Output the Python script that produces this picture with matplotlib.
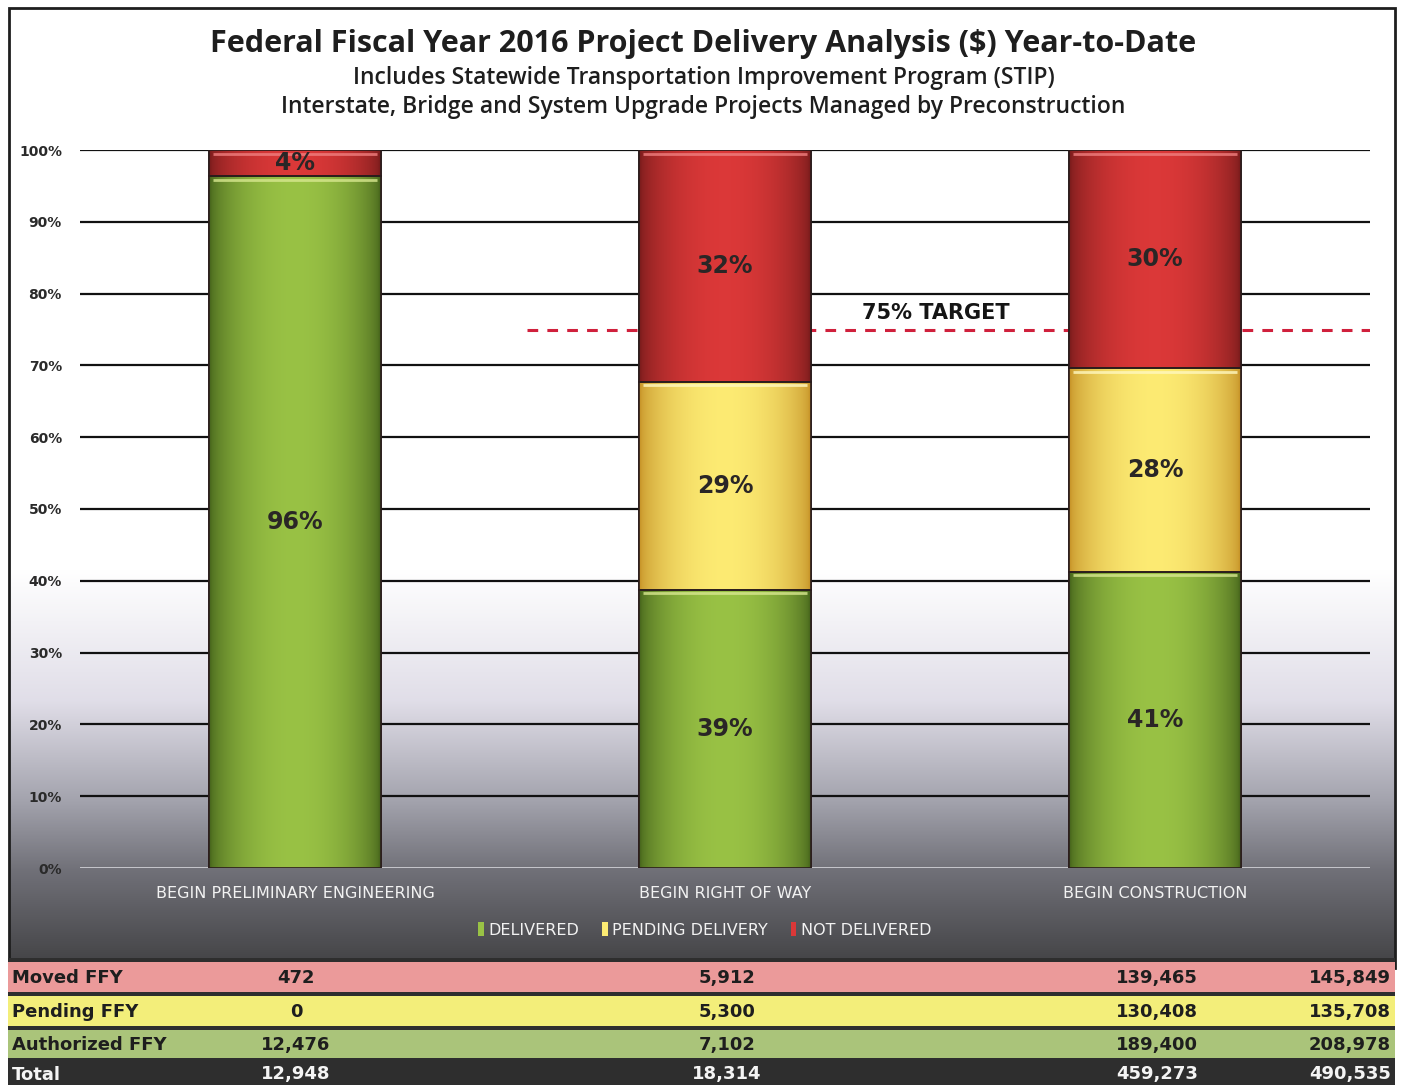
import numpy as np
import matplotlib
matplotlib.use('Agg')
import matplotlib.pyplot as plt
from matplotlib import font_manager
from matplotlib.patches import Rectangle, Patch

# ---------------- data ----------------
categories = ['BEGIN PRELIMINARY ENGINEERING', 'BEGIN RIGHT OF WAY', 'BEGIN CONSTRUCTION']
series_names = ['DELIVERED', 'PENDING DELIVERY', 'NOT DELIVERED']
table_rows = ['Moved FFY', 'Pending FFY', 'Authorized FFY', 'Total']
moved_ffy = [472, 5912, 139465, 145849]
pending_ffy = [0, 5300, 130408, 135708]
authorized_ffy = [12476, 7102, 189400, 208978]
total_ffy = [12948, 18314, 459273, 490535]
y_ticks = [0, 10, 20, 30, 40, 50, 60, 70, 80, 90, 100]
target_pct = 75
target_label = '75% TARGET'
title = 'Federal Fiscal Year 2016 Project Delivery Analysis ($) Year-to-Date'
subtitle1 = 'Includes Statewide Transportation Improvement Program (STIP)'
subtitle2 = 'Interstate, Bridge and System Upgrade Projects Managed by Preconstruction'


def has_font(name):
    try:
        font_manager.findfont(name, fallback_to_default=False)
        return True
    except Exception:
        return False

NARROW = 'Liberation Sans Narrow' if has_font('Liberation Sans Narrow') else (
    'DejaVu Sans Condensed' if has_font('DejaVu Sans Condensed') else 'DejaVu Sans')
TITLEF = 'Open Sans' if has_font('Open Sans') else 'DejaVu Sans'

W, H = 1407, 1085
fig = plt.figure(figsize=(W / 100, H / 100), dpi=100)
fig.patch.set_facecolor('white')

# ---------------- background gradient + frame ----------------
bg = fig.add_axes([0, 0, 1, 1])
bg.set_xlim(0, W)
bg.set_ylim(H, 0)
bg.axis('off')
ys = np.arange(0, 960)
stops_y = [0, 570, 700, 800, 870, 960]
stops_c = np.array([[1, 1, 1], [1, 1, 1], [0.88, 0.87, 0.91], [0.64, 0.64, 0.68],
                    [0.44, 0.44, 0.47], [0.27, 0.27, 0.28]])
grad = np.stack([np.interp(ys, stops_y, stops_c[:, k]) for k in range(3)], axis=-1)
bg.imshow(grad[:, None, :], extent=[9, 1395, 960, 0], aspect='auto', interpolation='bilinear')
bg.add_patch(Rectangle((9, 8), 1386, 960, fill=False, ec='#1e1e1e', lw=2))
bg.set_xlim(0, W)
bg.set_ylim(H, 0)

# ---------------- titles ----------------
fig.text(0.5, 1 - 44 / H, title, ha='center', va='center', fontsize=22,
         fontweight='bold', family=TITLEF, color='#1e1e1e')
fig.text(0.5, 1 - 78 / H, subtitle1, ha='center', va='center', fontsize=16.5,
         fontweight='semibold', family=TITLEF, color='#1e1e1e')
fig.text(0.5, 1 - 107 / H, subtitle2, ha='center', va='center', fontsize=16.5,
         fontweight='semibold', family=TITLEF, color='#1e1e1e')

# ---------------- main chart ----------------
ax = fig.add_axes([80 / W, 1 - 868 / H, (1370 - 80) / W, (868 - 150) / H])
ax.set_facecolor('none')
for s in ax.spines.values():
    s.set_visible(False)

n = len(categories)
x = np.arange(n)
tot = np.array(total_ffy[:n], dtype=float)
delivered = np.array(authorized_ffy[:n]) / tot * 100
pending = np.array(pending_ffy[:n]) / tot * 100
notdel = np.array(moved_ffy[:n]) / tot * 100
series = [delivered, pending, notdel]

center_cols = [(0.60, 0.76, 0.27), (0.99, 0.92, 0.45), (0.86, 0.22, 0.22)]
edge_cols = [(0.28, 0.40, 0.11), (0.78, 0.58, 0.16), (0.48, 0.11, 0.11)]
top_cols = ['#d8e890', '#fff8c0', '#f08080']
width = 0.4

# gridlines
for tv in y_ticks:
    if tv == 0:
        ax.axhline(tv, color='#cfcfd4', lw=2, zorder=1)
    else:
        ax.axhline(tv, color='#111111', lw=1.6, zorder=1)

# target line (behind bars)
ax.hlines(target_pct, 0.54, 2.5, colors='#d0203c', linestyles=(0, (3.5, 3.0)), lw=2.2, zorder=1.5)
ax.text(1.49, target_pct + 2.3, target_label, ha='center', va='center', fontsize=15,
        fontweight='bold', family=NARROW, color='#151515', zorder=5)

t = np.linspace(0, 1, 80)
prof = np.sin(np.pi * t) ** 0.6
bottom = np.zeros(n)
for k, vals in enumerate(series):
    bars = ax.bar(x, vals, width, bottom=bottom, color=center_cols[k], edgecolor='#2a1c1c',
                  lw=1.2, zorder=2)
    ce = np.array(center_cols[k]); ee = np.array(edge_cols[k])
    img = ee[None, :] + (ce - ee)[None, :] * prof[:, None]
    img = np.repeat(img[None, :, :], 2, axis=0)
    for i, b in enumerate(bars):
        if vals[i] <= 0:
            continue
        im = ax.imshow(img, extent=[x[i] - width / 2, x[i] + width / 2, bottom[i], bottom[i] + vals[i]],
                       aspect='auto', interpolation='bilinear', zorder=3)
        im.set_clip_path(b)
        ax.bar(x[i], vals[i], width, bottom=bottom[i], facecolor='none', edgecolor='#2a1c1c',
               lw=1.2, zorder=4)
        ax.hlines(bottom[i] + vals[i] - 0.5, x[i] - width / 2 + 0.01, x[i] + width / 2 - 0.01,
                  colors=top_cols[k], lw=2, zorder=4, alpha=0.8)
        ax.text(x[i], bottom[i] + vals[i] / 2, f'{vals[i]:.0f}%', ha='center', va='center',
                fontsize=17, fontweight='bold', color='#2a2626', zorder=6)
    bottom = bottom + vals

ax.set_xlim(-0.5, 2.5)
ax.set_ylim(0, 100)
ax.set_yticks(y_ticks)
ax.set_yticklabels([f'{v}%' for v in y_ticks], fontsize=10, fontweight='bold', color='#2a2a2a',
                   family=NARROW)
ax.set_xticks(x)
ax.set_xticklabels(categories, fontsize=11.5, color='#f2f2f2', family=NARROW)
ax.tick_params(axis='both', length=0)
ax.tick_params(axis='y', pad=13)
ax.tick_params(axis='x', pad=13)

# legend
handles = [Patch(facecolor=center_cols[k], edgecolor='none') for k in range(3)]
fig.legend(handles, series_names, loc='center', bbox_to_anchor=(0.501, 1 - 930 / H), ncol=3,
           frameon=False, labelcolor='#f2f2f2', handlelength=0.35, handleheight=0.9,
           handletextpad=0.3, columnspacing=1.4, prop={'family': NARROW, 'size': 11.5})

# ---------------- table ----------------
tab = fig.add_axes([0, 0, 1, 1], zorder=10)
tab.set_facecolor('none')
tab.set_xlim(0, W)
tab.set_ylim(H, 0)
tab.axis('off')
tab.add_patch(Rectangle((8, 958), 1387, H - 958, fc='#2e2e2e', ec='none'))
row_y = [(962, 992), (996, 1026), (1030, 1058), (1062, 1085)]
row_fc = ['#eb9a9a', '#f3ee7a', '#aac47a', '#2e2e2e']
row_tc = ['#1e1e1e', '#1e1e1e', '#1e1e1e', '#f4f4f4']
row_vals = [moved_ffy, pending_ffy, authorized_ffy, total_ffy]
col_x = [296, 727, 1157, 1391]
col_ha = ['center', 'center', 'center', 'right']
for r, (y0, y1) in enumerate(row_y):
    tab.add_patch(Rectangle((8, y0), 1387, y1 - y0, fc=row_fc[r], ec='none'))
    yc = (y0 + y1) / 2 + 1
    tab.text(12, yc, table_rows[r], ha='left', va='center', fontsize=13, fontweight='bold',
             family=NARROW, color=row_tc[r])
    for c, v in enumerate(row_vals[r]):
        tab.text(col_x[c], yc, f'{v:,}', ha=col_ha[c], va='center', fontsize=13,
                 fontweight='bold', family=NARROW, color=row_tc[r])

fig.savefig('out.png', dpi=100)
